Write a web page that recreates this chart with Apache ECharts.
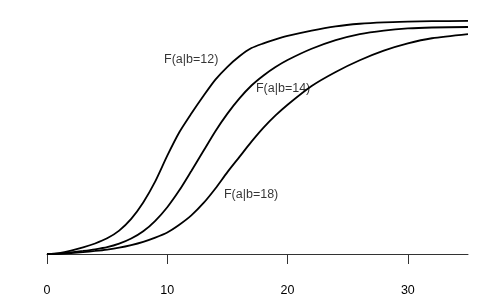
<!DOCTYPE html>
<html>
<head>
<meta charset="utf-8">
<script src="https://cdn.jsdelivr.net/npm/echarts@6/dist/echarts.min.js"></script>
<style>html,body{margin:0;padding:0;background:#fff}#c{width:480px;height:300px}</style>
</head>
<body>
<div id="c"></div>
<script>
var xs = [0,1,2,3,4,5,6,7,8,9,10,11,12,13,14,15,16,17,18,19,20,22,24,26,28,30,32,35];
var fB12 = [0,0.004,0.014,0.028,0.045,0.067,0.10,0.15,0.22,0.31,0.42,0.52,0.60,0.675,0.745,0.80,0.845,0.88,0.90,0.917,0.932,0.955,0.973,0.984,0.990,0.993,0.995,0.996];
var fB14 = [0,0.002,0.007,0.013,0.020,0.029,0.044,0.066,0.097,0.142,0.20,0.272,0.355,0.44,0.525,0.60,0.665,0.72,0.763,0.799,0.829,0.877,0.914,0.940,0.955,0.964,0.968,0.970];
var fB18 = [0,0.001,0.004,0.008,0.013,0.019,0.027,0.038,0.052,0.070,0.092,0.125,0.165,0.217,0.28,0.35,0.415,0.48,0.54,0.592,0.638,0.718,0.778,0.828,0.869,0.900,0.922,0.940];
var tickValues = [0,10,20,30];
var labelText = ['F(a|b=12)','F(a|b=14)','F(a|b=18)'];
var labelX = [9.73,17.37,14.71];
var labelY = [0.829,0.709,0.252];

function pairs(ys){ return xs.map(function(x,i){ return [x, ys[i]]; }); }
function line(ys){
  return { type:'line', data:pairs(ys), smooth:0.25, showSymbol:false, silent:true,
    lineStyle:{color:'#000', width:1.8}, z:2 };
}
var chart = echarts.init(document.getElementById('c'), null, {renderer:'canvas'});
chart.setOption({
  animation:false,
  grid:{left:47, right:12, top:20, bottom:46},
  xAxis:{type:'value', min:0, max:35, interval:10,
    axisLine:{show:true, lineStyle:{color:'#333', width:1}},
    axisTick:{show:true, length:10, inside:false, customValues:tickValues, lineStyle:{color:'#333'}},
    axisLabel:{customValues:tickValues, margin:30, color:'#000', fontSize:12.5, fontFamily:'Liberation Sans, Arial, sans-serif'},
    splitLine:{show:false}},
  yAxis:{type:'value', min:0, max:1, show:false, splitLine:{show:false}},
  series:[line(fB12), line(fB14), line(fB18),
    { type:'scatter', symbolSize:0, silent:true,
      data: labelX.map(function(x,i){ return {value:[x, labelY[i]], name:labelText[i]}; }),
      label:{show:true, position:'right', distance:0, formatter:function(p){return p.name;},
        color:'#000', fontSize:12.5, fontFamily:'Liberation Sans, Arial, sans-serif'}, z:3 }
  ]
});
</script>
</body>
</html>
